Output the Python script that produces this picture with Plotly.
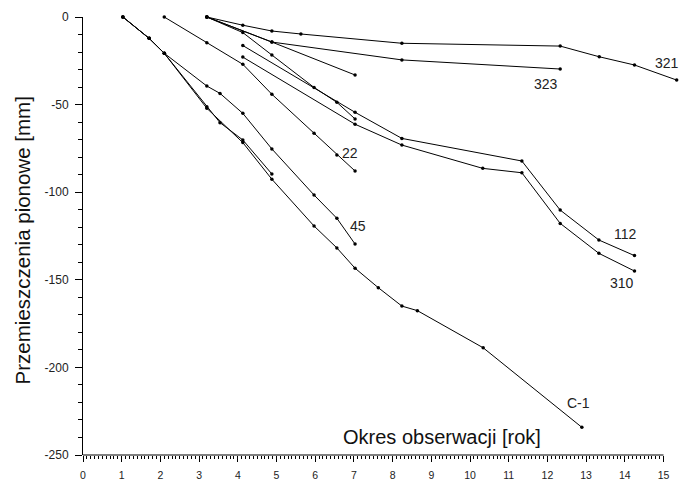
import plotly.graph_objects as go

# ---- data ----
c1_x = [1.03, 1.71, 2.10, 3.20, 4.13, 4.88, 5.97, 6.56, 7.03, 7.63, 8.24, 8.64, 10.34, 12.89]
c1_y = [0, -12.2, -20.7, -52.1, -71.7, -92.6, -119.3, -131.8, -143.4, -154.5, -165.0, -167.6, -188.8, -234.2]

p45_x = [1.03, 1.71, 2.10, 3.20, 3.54, 4.13, 4.88, 5.97, 6.56, 7.03]
p45_y = [0, -12.2, -20.7, -39.4, -43.6, -55.0, -75.3, -101.6, -114.9, -129.6]

pb_x = [1.03, 1.71, 2.10, 3.20, 3.54, 4.13, 4.88]
pb_y = [0, -12.2, -20.7, -51.2, -60.3, -70.2, -89.6]

p22_x = [2.10, 3.20, 4.13, 4.88, 5.97, 6.56, 7.03]
p22_y = [0, -14.7, -27.0, -44.1, -66.4, -78.8, -87.9]

p321_x = [3.20, 4.13, 4.88, 5.63, 8.24, 12.33, 13.34, 14.25, 15.34]
p321_y = [0, -4.7, -8.0, -9.7, -15.0, -16.6, -22.7, -27.4, -36.0]

p323_x = [3.20, 4.88, 8.24, 12.33]
p323_y = [0, -14.3, -24.5, -29.7]

pc_x = [3.20, 4.88, 7.03]
pc_y = [0, -14.3, -33.1]

ps_x = [3.20, 4.13, 4.88, 5.97, 6.56, 7.03]
ps_y = [0, -8.9, -21.7, -40.2, -48.7, -58.2]

p112_x = [4.13, 7.03, 8.24, 11.34, 12.33, 13.33, 14.25]
p112_y = [-16.3, -54.4, -69.3, -82.2, -110.2, -127.3, -136.2]

p310_x = [4.13, 7.03, 8.24, 10.33, 11.34, 12.33, 13.33, 14.25]
p310_y = [-22.9, -61.2, -73.1, -86.4, -88.9, -117.8, -134.9, -145.0]

series = [(c1_x, c1_y), (p45_x, p45_y), (pb_x, pb_y), (p22_x, p22_y),
          (p321_x, p321_y), (p323_x, p323_y), (pc_x, pc_y), (ps_x, ps_y),
          (p112_x, p112_y), (p310_x, p310_y)]

labels = ["22", "45", "C-1", "112", "310", "323", "321"]
label_x = [6.90, 7.11, 12.80, 14.03, 13.92, 11.96, 15.10]
label_y = [-77.6, -119.3, -220.5, -124.0, -152.0, -38.2, -26.3]

x_ticks = list(range(0, 16))
y_ticks = [0, -50, -100, -150, -200, -250]

X_MAX = 15.4
FONT = "Liberation Sans, Arial, sans-serif"

fig = go.Figure()
for xs, ys in series:
    fig.add_trace(go.Scatter(
        x=xs, y=ys, mode="lines+markers",
        line=dict(color="black", width=1),
        marker=dict(color="black", size=3.5),
        cliponaxis=False, showlegend=False, hoverinfo="skip"))

annotations = []
for t, lx, ly in zip(labels, label_x, label_y):
    annotations.append(dict(x=lx, y=ly, xref="x", yref="y", text=t, showarrow=False,
                            font=dict(family=FONT, size=14, color="#222")))
annotations.append(dict(x=(442 - 83) / 596, y=0, xref="paper", yref="paper",
                        text="Okres obserwacji [rok]", showarrow=False,
                        xanchor="center", yanchor="bottom", yshift=5,
                        font=dict(family=FONT, size=20, color="#111")))
annotations.append(dict(x=-61 / 596, y=0.49, xref="paper", yref="paper",
                        text="Przemieszczenia pionowe [mm]", showarrow=False, textangle=-90,
                        xanchor="center", yanchor="middle",
                        font=dict(family=FONT, size=20.5, color="#111")))

fig.update_layout(
    width=679, height=481,
    margin=dict(l=83, r=0, t=17, b=26),
    paper_bgcolor="white", plot_bgcolor="white",
    font=dict(family=FONT, size=11, color="#222"),
    annotations=annotations,
    shapes=[dict(type="line", xref="paper", yref="paper",
                 x0=0, x1=15 / X_MAX, y0=0, y1=0,
                 line=dict(color="black", width=1))],
    xaxis=dict(range=[0, X_MAX], showgrid=False, zeroline=False, showline=False,
               tickmode="array", tickvals=x_ticks, ticktext=[str(v) for v in x_ticks],
               ticks="outside", ticklen=6, tickwidth=1, tickcolor="black",
               tickfont=dict(family=FONT, size=10.5, color="#222"),
               ticklabelstandoff=4,
               minor=dict(tickmode="array", tickvals=[i / 10 for i in range(0, 151)],
                          ticks="outside", ticklen=3, tickwidth=1, tickcolor="black")),
    yaxis=dict(range=[-250, 0], showgrid=False, zeroline=False, showline=True,
               linecolor="black", linewidth=1,
               tickmode="array", tickvals=y_ticks, ticktext=[str(v) for v in y_ticks],
               ticks="outside", ticklen=7, tickwidth=1, tickcolor="black",
               tickfont=dict(family=FONT, size=12, color="#222"),
               ticklabelstandoff=4,
               minor=dict(dtick=10, ticks="outside", ticklen=4, tickwidth=1, tickcolor="black")),
)

fig.write_html("out.html", config={"displayModeBar": False},
               post_script="document.body.style.margin='0px';document.body.style.overflow='hidden';")
